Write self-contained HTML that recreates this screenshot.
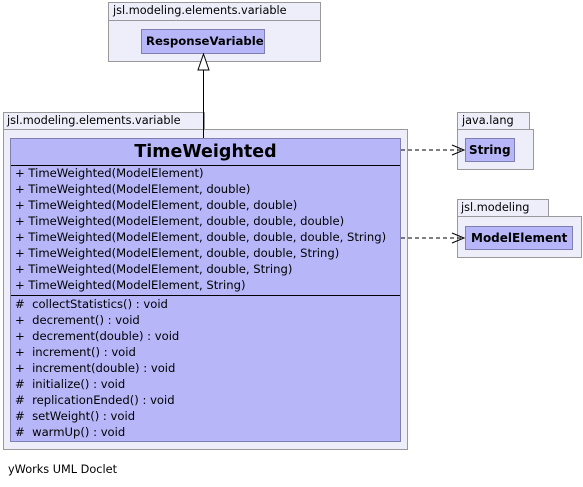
<!DOCTYPE html>
<html><head><style>
body{margin:0;width:583px;height:487px;background:#fff;position:relative;font-family:"DejaVu Sans","Liberation Sans",sans-serif;overflow:hidden}
.a{position:absolute;box-sizing:border-box}
.pk{background:#eeeefa;border:1px solid #999}
.cl{background:#b6b6f8;border:1px solid #7f7fb0}
.t{position:absolute;font-size:11.3px;color:#000;white-space:nowrap}
.b{font-weight:bold}
.row{position:absolute;left:4px;font-size:11.6px;white-space:nowrap;line-height:16px}
</style></head><body>
<div class="a pk" style="left:108px;top:2px;width:213px;height:19px"></div>
<div class="t" style="left:113px;top:4px">jsl.modeling.elements.variable</div>
<div class="a pk" style="left:108px;top:20px;width:213px;height:42px"></div>
<div class="a cl" style="left:141px;top:29px;width:124px;height:25px"></div>
<div class="t b" style="left:146px;top:34px;font-size:11.7px">ResponseVariable</div>

<div class="a pk" style="left:3px;top:112px;width:202px;height:18px"></div>
<div class="t" style="left:7px;top:114px">jsl.modeling.elements.variable</div>
<div class="a pk" style="left:3px;top:129px;width:405px;height:321px"></div>

<div class="a pk" style="left:457px;top:112px;width:73px;height:18px"></div>
<div class="t" style="left:462px;top:114px">java.lang</div>
<div class="a pk" style="left:457px;top:129px;width:77px;height:41px"></div>
<div class="a cl" style="left:465px;top:138px;width:50px;height:24px"></div>
<div class="t b" style="left:469px;top:143px;font-size:12px">String</div>

<div class="a pk" style="left:457px;top:199px;width:92px;height:18px"></div>
<div class="t" style="left:461px;top:201px">jsl.modeling</div>
<div class="a pk" style="left:457px;top:216px;width:125px;height:42px"></div>
<div class="a cl" style="left:465px;top:226px;width:108px;height:24px"></div>
<div class="t b" style="left:471px;top:231px;font-size:12px">ModelElement</div>

<div class="a cl" style="left:10px;top:138px;width:391px;height:304px">
<div class="t b" style="left:0;width:389px;text-align:center;top:3px;font-size:17.5px">TimeWeighted</div>
<div class="a" style="left:0;top:26px;width:389px;height:1px;background:#000"></div>
<div class="a" style="left:0;top:156px;width:389px;height:1px;background:#000"></div>
<div class="row" style="top:26px">+ TimeWeighted(ModelElement)</div>
<div class="row" style="top:42px">+ TimeWeighted(ModelElement, double)</div>
<div class="row" style="top:58px">+ TimeWeighted(ModelElement, double, double)</div>
<div class="row" style="top:74px">+ TimeWeighted(ModelElement, double, double, double)</div>
<div class="row" style="top:90px">+ TimeWeighted(ModelElement, double, double, double, String)</div>
<div class="row" style="top:106px">+ TimeWeighted(ModelElement, double, double, String)</div>
<div class="row" style="top:122px">+ TimeWeighted(ModelElement, double, String)</div>
<div class="row" style="top:138px">+ TimeWeighted(ModelElement, String)</div>
<div class="row" style="top:157px">#&nbsp; collectStatistics() : void</div>
<div class="row" style="top:173px">+&nbsp; decrement() : void</div>
<div class="row" style="top:189px">+&nbsp; decrement(double) : void</div>
<div class="row" style="top:205px">+&nbsp; increment() : void</div>
<div class="row" style="top:221px">+&nbsp; increment(double) : void</div>
<div class="row" style="top:237px">#&nbsp; initialize() : void</div>
<div class="row" style="top:253px">#&nbsp; replicationEnded() : void</div>
<div class="row" style="top:269px">#&nbsp; setWeight() : void</div>
<div class="row" style="top:285px">#&nbsp; warmUp() : void</div>
</div>

<div class="t" style="left:8px;top:463px">yWorks UML Doclet</div>

<svg class="a" style="left:0;top:0" width="583" height="487">
<line x1="203.5" y1="138" x2="203.5" y2="70" stroke="#000"/>
<polygon points="203.5,54 198,70 209,70" fill="#fff" stroke="#000"/>
<line x1="401" y1="150" x2="464" y2="150" stroke="#000" stroke-dasharray="4,3"/>
<polyline points="452,145 464,150 452,155" fill="none" stroke="#000"/>
<line x1="401" y1="238" x2="464" y2="238" stroke="#000" stroke-dasharray="4,3"/>
<polyline points="452,233 464,238 452,243" fill="none" stroke="#000"/>
</svg>
</body></html>
